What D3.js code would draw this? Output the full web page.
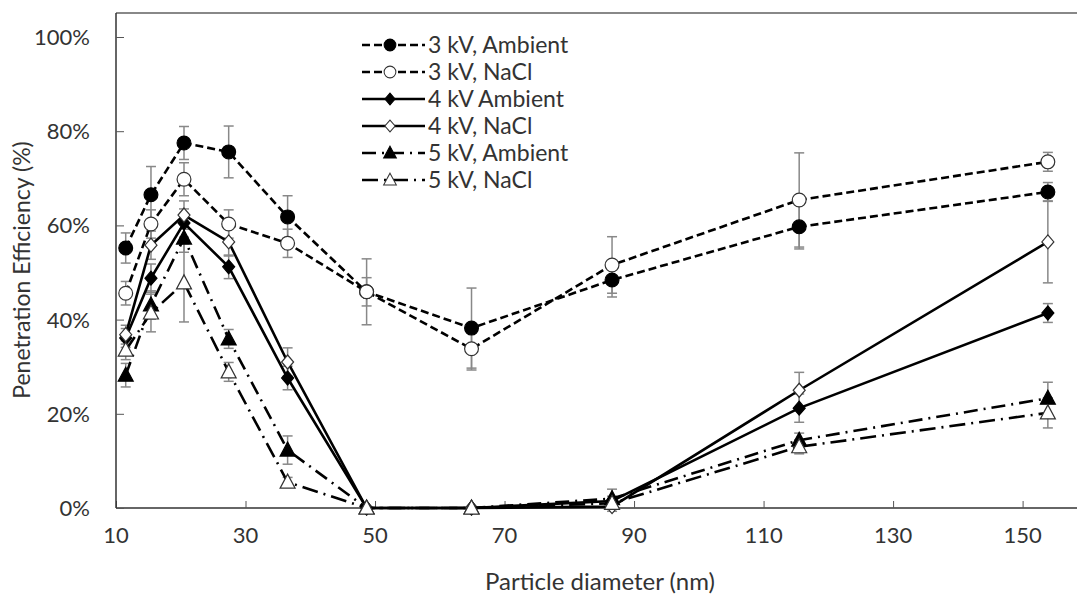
<!DOCTYPE html>
<html>
<head>
<meta charset="utf-8">
<script src="https://cdn.jsdelivr.net/npm/d3@7"></script>
<style>
  body { margin: 0; background: #fff; }
  text { font-family: Lato, "Open Sans", sans-serif; fill: #333; }
</style>
</head>
<body>
<div id="chart"></div>
<script>
// particle diameters (nm)
const diameters = [11.5, 15.4, 20.5, 27.4, 36.5, 48.7, 64.9, 86.6, 115.5, 153.9];

// penetration efficiency (%) and error (%) per series
const kv3Ambient = [55.2, 66.5, 77.5, 75.6, 61.8, 45.9, 38.2, 48.4, 59.7, 67.1];
const kv3AmbientErr = [3.2, 6, 3.5, 5.5, 4.5, 7, 8.5, 3.6, 4.7, 2];
const kv3NaCl = [45.6, 60.3, 69.8, 60.3, 56.2, 45.9, 33.8, 51.6, 65.4, 73.5];
const kv3NaClErr = [2.5, 3, 3.5, 3, 3, 3, 4.5, 6, 10, 2];
const kv4Ambient = [36.1, 48.8, 60.5, 51.2, 27.6, 0, 0, 1.5, 21.2, 41.4];
const kv4AmbientErr = [2, 3, 3, 2.5, 2.5, 0, 0, 1, 3, 2];
const kv4NaCl = [36.8, 55.8, 62.2, 56.5, 31, 0, 0, 0.3, 25, 56.5];
const kv4NaClErr = [2, 3, 3, 3, 3, 0, 0, 1, 3.8, 8.7];
const kv5Ambient = [28.2, 43.1, 57.3, 35.9, 12.3, 0, 0, 2, 14.4, 23.3];
const kv5AmbientErr = [2.5, 3, 3, 2, 3, 0, 0, 2, 1.5, 3.4];
const kv5NaCl = [33.5, 41.4, 47.8, 28.9, 5.5, 0, 0, 1, 13, 20.2];
const kv5NaClErr = [2, 4, 8.3, 2, 1, 0, 0, 1, 1.5, 3.2];

const xTicks = [10, 30, 50, 70, 90, 110, 130, 150];
const yTicks = [0, 20, 40, 60, 80, 100];

const series = [
  { name: '3 kV, Ambient', values: kv3Ambient, err: kv3AmbientErr, marker: 'circle', filled: true, dash: '8,4' },
  { name: '3 kV, NaCl', values: kv3NaCl, err: kv3NaClErr, marker: 'circle', filled: false, dash: '8,4' },
  { name: '4 kV Ambient', values: kv4Ambient, err: kv4AmbientErr, marker: 'diamond', filled: true, dash: null },
  { name: '4 kV, NaCl', values: kv4NaCl, err: kv4NaClErr, marker: 'diamond', filled: false, dash: null },
  { name: '5 kV, Ambient', values: kv5Ambient, err: kv5AmbientErr, marker: 'triangle', filled: true, dash: '14,6,2,6' },
  { name: '5 kV, NaCl', values: kv5NaCl, err: kv5NaClErr, marker: 'triangle', filled: false, dash: '16,6,2,6' }
];

const width = 1077, height = 599;
const svg = d3.select('#chart').append('svg')
  .attr('width', width)
  .attr('height', height);

const x = d3.scaleLinear().domain([10, 158.4]).range([116, 1077]);
const y = d3.scaleLinear().domain([0, 100]).range([508, 37]);

// frame
svg.append('line')
  .attr('x1', x(10)).attr('x2', width)
  .attr('y1', 13).attr('y2', 13)
  .attr('stroke', '#888').attr('stroke-width', 2);

const xAxis = svg.append('g')
  .attr('transform', `translate(0,${y(0)})`)
  .call(d3.axisTop(x).tickValues(xTicks).tickSize(7).tickFormat(''));
xAxis.select('.domain').attr('stroke', '#333').attr('stroke-width', 1.5).attr('d', `M${x(10)},0H${width}`);
xAxis.selectAll('.tick line').attr('stroke', '#555');

svg.selectAll('.xlabel')
  .data(xTicks)
  .join('text')
  .attr('class', 'xlabel')
  .attr('x', d => x(d))
  .attr('y', 543)
  .attr('text-anchor', 'middle')
  .style('font-size', '22px')
  .text(d => d);

const yAxis = svg.append('g')
  .attr('transform', `translate(${x(10)},0)`)
  .call(d3.axisRight(y).tickValues(yTicks).tickSize(8).tickFormat(''));
yAxis.select('.domain').attr('stroke', '#333').attr('stroke-width', 1.5).attr('d', `M0,13V${y(0)}`);
yAxis.selectAll('.tick line').attr('stroke', '#555');

svg.selectAll('.ylabel')
  .data(yTicks)
  .join('text')
  .attr('class', 'ylabel')
  .attr('x', 90)
  .attr('y', d => y(d) + 8)
  .attr('text-anchor', 'end')
  .style('font-size', '22px')
  .text(d => d + '%');

// axis titles
svg.append('text')
  .attr('transform', `translate(30,${270}) rotate(-90)`)
  .attr('text-anchor', 'middle')
  .style('font-size', '23px')
  .text('Penetration  Efficiency (%)');

svg.append('text')
  .attr('x', 600)
  .attr('y', 590)
  .attr('text-anchor', 'middle')
  .style('font-size', '24px')
  .text('Particle diameter (nm)');

function markerPath(type) {
  if (type === 'circle') return d3.symbol(d3.symbolCircle, 150)();
  if (type === 'diamond') return 'M0,-7L6,0L0,7L-6,0Z';
  return 'M0,-8L7.5,6L-7.5,6Z';
}

const line = d3.line()
  .x((d, i) => x(diameters[i]))
  .y(d => y(d));

// error bars first
series.forEach(s => {
  const g = svg.append('g').attr('stroke', '#888').attr('stroke-width', 1.5);
  s.values.forEach((v, i) => {
    const e = s.err[i];
    if (!e) return;
    const cx = x(diameters[i]);
    g.append('line').attr('x1', cx).attr('x2', cx).attr('y1', y(v + e)).attr('y2', y(v - e));
    g.append('line').attr('x1', cx - 5).attr('x2', cx + 5).attr('y1', y(v + e)).attr('y2', y(v + e));
    g.append('line').attr('x1', cx - 5).attr('x2', cx + 5).attr('y1', y(v - e)).attr('y2', y(v - e));
  });
});

// lines and markers
series.forEach(s => {
  svg.append('path')
    .datum(s.values)
    .attr('d', line)
    .attr('fill', 'none')
    .attr('stroke', '#000')
    .attr('stroke-width', 2.6)
    .attr('stroke-dasharray', s.dash);

  svg.selectAll(null)
    .data(s.values)
    .join('path')
    .attr('d', markerPath(s.marker))
    .attr('transform', (d, i) => `translate(${x(diameters[i])},${y(d)})`)
    .attr('fill', s.filled ? '#000' : '#fff')
    .attr('stroke', s.filled ? '#000' : '#333')
    .attr('stroke-width', 1.2);
});

// legend
const legend = svg.append('g').attr('transform', 'translate(362,45)');
series.forEach((s, i) => {
  const row = legend.append('g').attr('transform', `translate(0,${i * 27})`);
  row.append('line')
    .attr('x1', 0).attr('x2', 63)
    .attr('stroke', '#000').attr('stroke-width', 2.6)
    .attr('stroke-dasharray', s.dash);
  row.append('path')
    .attr('d', markerPath(s.marker))
    .attr('transform', 'translate(28,0) scale(0.85)')
    .attr('fill', s.filled ? '#000' : '#fff')
    .attr('stroke', s.filled ? '#000' : '#333')
    .attr('stroke-width', 1.2);
  row.append('text')
    .attr('x', 66)
    .attr('y', 8)
    .style('font-size', '23px')
    .text(s.name);
});
</script>
</body>
</html>
